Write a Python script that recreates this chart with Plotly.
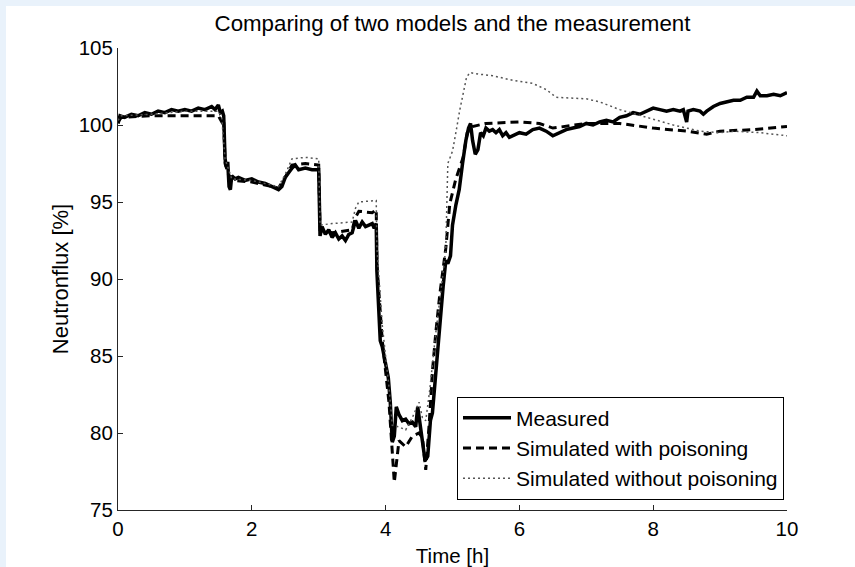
import plotly.graph_objects as go

# ---- data ----
t_meas = [0.00, 0.03, 0.10, 0.20, 0.30, 0.40, 0.50, 0.60, 0.70, 0.80, 0.90, 1.00, 1.10, 1.20, 1.30, 1.40, 1.45, 1.50,
          1.53, 1.56, 1.58, 1.60, 1.62, 1.64, 1.66, 1.68, 1.70, 1.75, 1.80, 1.90, 2.00, 2.10, 2.20, 2.30, 2.40, 2.45,
          2.50, 2.55, 2.60, 2.65, 2.70, 2.80, 2.90, 3.00, 3.02, 3.05, 3.10, 3.15, 3.20, 3.25, 3.30, 3.35, 3.40, 3.45,
          3.50, 3.55, 3.60, 3.65, 3.70, 3.75, 3.80, 3.83, 3.86, 3.87, 3.90, 3.92, 3.95, 4.00, 4.04, 4.07, 4.10, 4.13,
          4.16, 4.20, 4.25, 4.30, 4.35, 4.40, 4.45, 4.48, 4.52, 4.56, 4.59, 4.63, 4.67, 4.70, 4.74, 4.78, 4.82, 4.86,
          4.90, 4.93, 4.97, 5.00, 5.05, 5.10, 5.15, 5.20, 5.24, 5.27, 5.30, 5.34, 5.38, 5.42, 5.46, 5.50, 5.55, 5.60,
          5.65, 5.70, 5.75, 5.80, 5.85, 5.90, 6.00, 6.10, 6.20, 6.30, 6.40, 6.50, 6.60, 6.70, 6.80, 6.90, 7.00, 7.10,
          7.20, 7.30, 7.40, 7.50, 7.60, 7.70, 7.80, 7.90, 8.00, 8.10, 8.20, 8.30, 8.40, 8.45, 8.50, 8.52, 8.60, 8.70,
          8.75, 8.80, 8.90, 9.00, 9.10, 9.20, 9.30, 9.40, 9.50, 9.55, 9.60, 9.70, 9.80, 9.90, 10.00]
v_meas = [100.1, 100.6, 100.5, 100.7, 100.6, 100.8, 100.7, 100.9, 100.8, 101.0, 100.9, 101.0, 100.9, 101.1, 101.0, 101.2, 101.0, 101.3,
          100.8, 100.9, 100.6, 97.8, 97.3, 97.6, 96.0, 95.8, 96.7, 96.5, 96.6, 96.4, 96.5, 96.3, 96.2, 96.0, 95.8, 96.0,
          96.6, 96.9, 97.2, 97.4, 97.1, 97.2, 97.1, 97.1, 92.8, 93.4, 92.9, 93.2, 92.7, 93.0, 92.6, 92.8, 92.5, 92.9,
          93.0, 93.8, 93.3, 93.7, 93.4, 93.5, 93.6, 93.3, 93.6, 90.5, 88.0, 86.0, 85.6, 84.3, 83.6, 82.0, 79.4, 79.8,
          81.7, 81.2, 80.8, 80.9, 80.6, 80.7, 80.4, 81.7, 80.5, 79.0, 78.2, 78.5, 80.8, 81.3, 83.5, 85.4, 87.5, 89.5,
          91.2, 91.0, 91.5, 93.5, 94.8, 95.8, 97.5, 99.0, 99.8, 100.1, 99.0, 98.1, 98.4, 99.5, 99.3, 99.8, 99.6, 99.7,
          99.5, 99.7, 99.3, 99.5, 99.2, 99.3, 99.5, 99.4, 99.7, 99.8, 99.6, 99.3, 99.5, 99.7, 99.8, 99.9, 100.1, 100.0,
          100.2, 100.3, 100.2, 100.5, 100.6, 100.8, 100.7, 100.9, 101.1, 101.0, 100.9, 101.0, 100.9, 101.0, 100.2, 100.9, 101.0, 100.9,
          100.7, 100.9, 101.2, 101.4, 101.5, 101.6, 101.6, 101.8, 101.8, 102.2, 101.9, 101.9, 102.0, 101.9, 102.1]

t_pois = [0.00, 0.05, 0.50, 1.00, 1.50, 1.55, 1.58, 1.60, 1.65, 1.70, 2.00, 2.40, 2.50, 2.60, 2.80, 3.00, 3.02, 3.20,
          3.50, 3.55, 3.60, 3.80, 3.86, 3.87, 3.95, 4.05, 4.10, 4.13, 4.20, 4.30, 4.40, 4.50, 4.55, 4.60, 4.65, 4.70,
          4.75, 4.81, 4.90, 4.96, 5.05, 5.16, 5.22, 5.30, 5.50, 6.00, 6.30, 6.50, 7.00, 7.50, 8.00, 8.50, 8.80, 9.00,
          9.50, 10.00]
v_pois = [100.2, 100.5, 100.6, 100.6, 100.6, 100.2, 100.4, 97.5, 96.8, 96.4, 96.3, 95.9, 96.6, 97.4, 97.5, 97.4, 93.2, 93.0,
          93.2, 94.0, 94.4, 94.3, 94.5, 91.0, 86.0, 82.0, 78.5, 76.8, 79.5, 79.1, 79.8, 80.0, 79.7, 77.6, 80.5, 84.0,
          86.5, 89.0, 92.0, 94.9, 96.5, 97.9, 99.5, 99.9, 100.1, 100.2, 100.1, 99.8, 100.1, 100.1, 99.8, 99.6, 99.4, 99.6,
          99.7, 99.9]

t_nopois = [0.00, 0.05, 0.50, 1.00, 1.50, 1.55, 1.60, 1.70, 2.00, 2.40, 2.50, 2.60, 2.80, 3.00, 3.02, 3.20, 3.50, 3.55,
            3.60, 3.86, 3.87, 3.95, 4.05, 4.10, 4.20, 4.30, 4.40, 4.50, 4.55, 4.60, 4.66, 4.75, 4.84, 4.90, 4.93, 5.00,
            5.05, 5.11, 5.21, 5.26, 5.40, 5.60, 5.90, 6.20, 6.40, 6.55, 7.00, 7.20, 7.50, 8.00, 8.30, 8.70, 9.00, 9.20,
            9.60, 10.00]
v_nopois = [100.3, 100.6, 100.7, 100.9, 100.9, 100.5, 97.8, 96.5, 96.4, 96.0, 96.8, 97.8, 97.9, 97.8, 93.5, 93.6, 93.7, 94.6,
            95.0, 95.1, 92.0, 87.0, 83.0, 80.5, 80.4, 80.2, 81.0, 82.0, 81.0, 80.8, 82.8, 86.5, 89.7, 92.0, 97.5, 98.3,
            99.5, 101.0, 103.1, 103.4, 103.3, 103.2, 102.9, 102.7, 102.3, 101.8, 101.7, 101.5, 101.0, 100.4, 100.0, 99.6, 99.5, 99.6,
            99.5, 99.3]

x_ticks = [0, 2, 4, 6, 8, 10]
y_ticks = [75, 80, 85, 90, 95, 100, 105]

FONT = "Liberation Sans, Arial, Helvetica, sans-serif"

fig = go.Figure()
fig.add_trace(go.Scatter(x=t_meas, y=v_meas, mode="lines", name="Measured",
                         line=dict(color="black", width=3.5)))
fig.add_trace(go.Scatter(x=t_pois, y=v_pois, mode="lines", name="Simulated with poisoning",
                         line=dict(color="black", width=3, dash="8px,5px")))
fig.add_trace(go.Scatter(x=t_nopois, y=v_nopois, mode="lines", name="Simulated without poisoning",
                         line=dict(color="#555555", width=1.5, dash="2px,3px")))

L, R, T, B = 118, 787, 48, 510
W, H = 855, 567
pw, ph = R - L, B - T

fig.update_layout(
    width=W, height=H,
    margin=dict(l=L, r=W - R, t=T, b=H - B, autoexpand=False),
    paper_bgcolor="#e9f2fb",
    plot_bgcolor="white",
    font=dict(family=FONT, size=20.5, color="black"),
    title=dict(text="Comparing of two models and the measurement", x=(L + pw / 2) / W, xanchor="center",
               y=1 - 23 / H, yanchor="middle", font=dict(size=22.3)),
    showlegend=True,
    legend=dict(x=(784 - L) / pw, y=(B - 448) / ph, xanchor="right", yanchor="middle",
                bgcolor="white", bordercolor="black", borderwidth=1, font=dict(size=21),
                tracegroupgap=0, itemwidth=48),
    shapes=[dict(type="rect", xref="paper", yref="paper",
                 x0=(6 - L) / pw, x1=(W + 5 - L) / pw, y0=-(H + 5 - B) / ph, y1=1 + (T - 6) / ph,
                 fillcolor="white", line=dict(width=0), layer="below")],
)
fig.update_xaxes(range=[0, 10], tickvals=x_ticks, ticks="inside", ticklen=5, tickcolor="#262626",
                 showline=True, linecolor="#262626", linewidth=1, showgrid=False, zeroline=False,
                 automargin=False,
                 title=dict(text="Time [h]", standoff=10, font=dict(size=20.5)), tickfont=dict(size=20.5))
fig.update_yaxes(range=[75, 105], tickvals=y_ticks, ticks="inside", ticklen=5, tickcolor="#262626",
                 showline=True, linecolor="#262626", linewidth=1, showgrid=False, zeroline=False,
                 automargin=False,
                 title=dict(text="Neutronflux [%]", standoff=3, font=dict(size=22)), tickfont=dict(size=20.5))

fig.write_html("out.html")
